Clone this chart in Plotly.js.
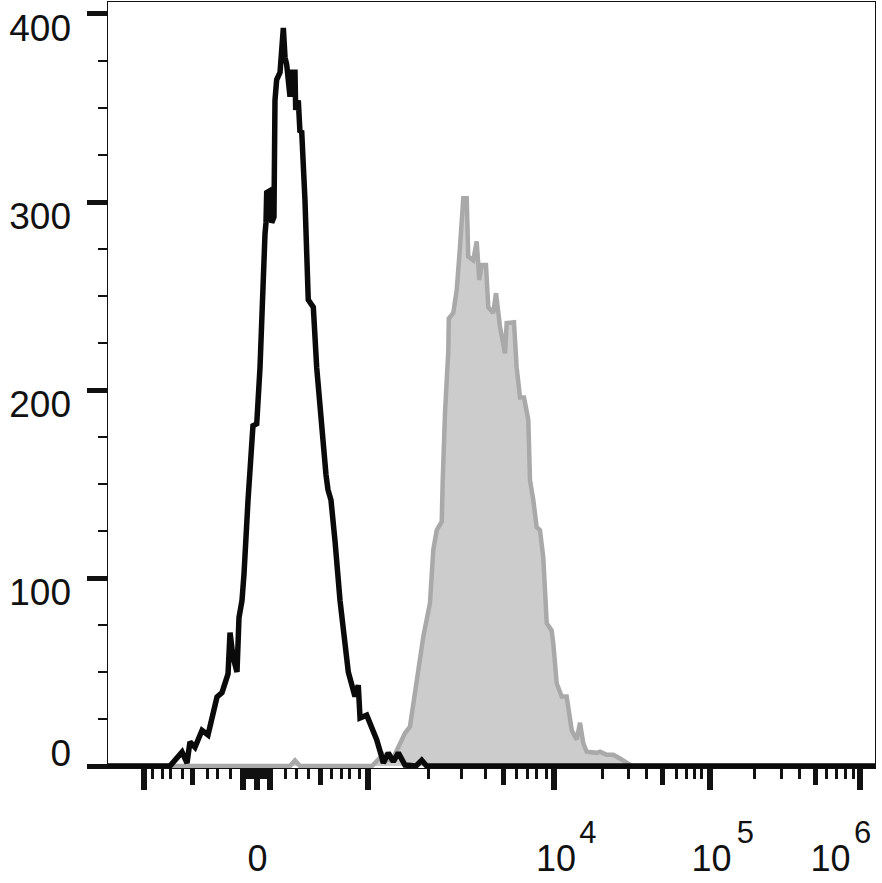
<!DOCTYPE html>
<html>
<head>
<meta charset="utf-8">
<script src="https://cdn.plot.ly/plotly-3.0.1.min.js"></script>
<style>html,body{margin:0;padding:0;background:#fff;}#chart{width:882px;height:883px;}</style>
</head>
<body>
<div id="chart"></div>
<script>
// Display channel units (0..1000 across the axis) of a biexponential fluorescence scale.
// Unstained / isotype histogram (black outline)
const blackX = [0, 80.8, 96.5, 103.0, 106.9, 113.4, 122.6, 130.4, 142.1, 148.6, 156.5, 159.1, 163.0, 168.2, 170.8, 174.7, 177.3, 180.6, 182.5, 185.1, 187.4, 189.0, 193.9, 198.2, 204.7, 206.0, 206.9, 211.2, 213.4, 216.4, 217.7, 219.9, 224.3, 228.6, 230.8, 233.0, 237.3, 239.5, 243.8, 244.7, 248.1, 250.3, 252.5, 253.8, 256.8, 261.1, 267.7, 272.1, 278.6, 280.6, 284.2, 286.8, 290.7, 295.9, 299.9, 302.5, 313.3, 322.0, 326.3, 328.6, 337.3, 350.3, 356.8, 358.9, 365.4, 371.9, 378.5, 387.2, 401.6, 409.0, 415.5, 1000];
const blackY = [0, 0, 7.4, 1.6, 12.8, 10, 19, 16.5, 36.7, 39, 49, 71, 58, 50, 79, 88, 102, 133, 141, 157, 168, 181, 182, 212, 283, 289, 305, 306, 289, 292, 354, 365, 369, 392.6, 377, 373, 356, 369, 369, 349, 354, 337, 338, 328, 301, 248, 244, 212, 177, 168, 155, 147, 141.5, 120, 99, 88, 50, 37, 43, 25.5, 27, 14, 5, 1.5, 7, 2.3, 7, 0.5, 0, 3, 0, 0];

// Stained histogram (grey filled)
const grayX = [0, 230.8, 237.3, 243.8, 250.3, 344.2, 352.0, 358.5, 363.8, 371.6, 376.8, 380.7, 387.2, 393.7, 402.5, 411.1, 419.8, 424.1, 428.6, 435.1, 436.4, 437.2, 439.4, 443.7, 444.3, 450.2, 454.6, 458.9, 461.5, 463.2, 467.7, 469.7, 476.2, 480.7, 484.1, 487.2, 492.8, 495.8, 502.3, 505.9, 511.1, 517.6, 519.8, 526.3, 529.3, 532.8, 537.2, 542.4, 548.0, 550.2, 554.5, 558.9, 563.2, 567.5, 572.0, 578.5, 580.6, 585.0, 591.5, 598.0, 604.6, 611.1, 615.4, 619.7, 624.1, 637.2, 641.5, 650.2, 658.8, 667.5, 676.3, 683.2, 1000];
const grayY = [0, 0, 0, 3, 0, 0, 3, 6, 3, 4, 8.5, 12, 17.5, 21, 44, 68.8, 86.7, 115, 125.5, 130, 152, 168, 188, 221, 238, 241, 253, 276, 290, 302, 302, 271, 269, 279, 258.5, 266.5, 266.5, 244, 241, 251.5, 233.7, 219.5, 235.6, 235.6, 236, 212, 196, 196, 184, 152, 141.5, 127, 125.5, 111, 76, 72, 65, 44, 37, 37, 19, 14, 23, 12, 7.6, 7, 7.6, 6, 6, 4, 1.6, 0, 0];

// Axis ticks (channel positions of the scale's tick marks)
const xMajorTicks = [46.3, 176.0, 194.3, 211.2, 339.0, 582.1, 784.9, 980.4];
const xMidTicks = [110.8, 277.1, 515.0, 722.3, 921.8];
const xMinorTicks = [57.4, 70.4, 82.1, 96.5, 129.1, 143.4, 159.1, 180.6, 183.8, 187.0, 190.2, 198.9, 202.1, 205.3, 208.0, 230.8, 246.4, 261.4, 292.0, 304.4, 315.5, 327.9, 417.9, 461.5, 492.2, 532.0, 547.0, 559.3, 571.1, 644.7, 678.4, 702.7, 741.5, 753.6, 764.4, 773.5, 843.5, 878.4, 902.2, 937.4, 949.2, 960.9, 971.7];
// Tick label text: base and exponent parts (positions in channel units)
const xBasePos = [194.9, 584.1, 786.8, 942.0];
const xBaseText = ['0', '10', '10', '10'];
const xExpPos = [625.5, 830.9, 984.0];
const xExpText = ['4', '5', '6'];
const yLabelVals = [100, 200, 300, 400];
const yLabelText = ['100', '200', '300', '400'];
const yZeroVal = [0];
const yZeroText = ['0'];

const FONT = '"Liberation Sans", Arial, Helvetica, sans-serif';
const INK = '#111111';
const YR = [-1.064, 406.38];
const XR = [0, 1000];

const traces = [
  {type: 'scatter', mode: 'lines', x: grayX, y: grayY, fill: 'tozeroy',
   fillcolor: '#cccccc', line: {color: '#a9a9a9', width: 4.5, shape: 'linear'}, hoverinfo: 'skip'},
  {type: 'scatter', mode: 'lines', x: blackX, y: blackY,
   line: {color: '#0a0a0a', width: 5.5, shape: 'linear'}, hoverinfo: 'skip'},
  {type: 'scatter', mode: 'lines', x: [], y: [], xaxis: 'x2', yaxis: 'y', hoverinfo: 'skip'},
  {type: 'scatter', mode: 'lines', x: [], y: [], xaxis: 'x3', yaxis: 'y', hoverinfo: 'skip'},
  {type: 'scatter', mode: 'lines', x: [], y: [], xaxis: 'x4', yaxis: 'y', hoverinfo: 'skip'},
  {type: 'scatter', mode: 'lines', x: [], y: [], xaxis: 'x', yaxis: 'y2', hoverinfo: 'skip'},
  {type: 'scatter', mode: 'lines', x: [], y: [], xaxis: 'x', yaxis: 'y3', hoverinfo: 'skip'}
];

const plain = {showgrid: false, zeroline: false, fixedrange: true};

const layout = {
  width: 882, height: 883,
  margin: {l: 108, r: 7, t: 2, b: 115, pad: 0},
  paper_bgcolor: '#ffffff', plot_bgcolor: '#ffffff',
  showlegend: false, hovermode: false,
  xaxis: Object.assign({}, plain, {
    range: XR, tickmode: 'array', tickvals: xMajorTicks,
    ticks: 'outside', ticklen: 21, tickwidth: 6, tickcolor: INK,
    showticklabels: false, showline: true, linecolor: INK, linewidth: 1, mirror: true,
    minor: {tickmode: 'array', tickvals: xMinorTicks, ticks: 'outside', ticklen: 10, tickwidth: 3, tickcolor: INK, showgrid: false}
  }),
  xaxis2: Object.assign({}, plain, {
    overlaying: 'x', anchor: 'y', side: 'bottom', range: XR,
    tickmode: 'array', tickvals: xMidTicks, ticks: 'outside', ticklen: 16, tickwidth: 5, tickcolor: INK,
    showticklabels: false, showline: false
  }),
  xaxis3: Object.assign({}, plain, {
    overlaying: 'x', anchor: 'y', side: 'bottom', range: XR,
    tickmode: 'array', tickvals: xBasePos, ticktext: xBaseText, ticks: '',
    showline: false, ticklabelstandoff: 66,
    tickfont: {family: FONT, size: 36, color: INK}
  }),
  xaxis4: Object.assign({}, plain, {
    overlaying: 'x', anchor: 'y', side: 'bottom', range: XR,
    tickmode: 'array', tickvals: xExpPos, ticktext: xExpText, ticks: '',
    showline: false, ticklabelstandoff: 43,
    tickfont: {family: FONT, size: 31, color: INK}
  }),
  yaxis: Object.assign({}, plain, {
    range: YR, tickmode: 'linear', tick0: 0, dtick: 100,
    ticks: 'outside', ticklen: 20, tickwidth: 5, tickcolor: INK,
    showticklabels: false, showline: true, linecolor: INK, linewidth: 1, mirror: true,
    minor: {tickmode: 'linear', tick0: 0, dtick: 25, ticks: 'outside', ticklen: 9, tickwidth: 2.5, tickcolor: INK, showgrid: false}
  }),
  yaxis2: Object.assign({}, plain, {
    overlaying: 'y', anchor: 'x', side: 'left', range: YR,
    tickmode: 'array', tickvals: yLabelVals, ticktext: yLabelText, ticks: '',
    showline: false, ticklabelstandoff: 36, ticklabelshift: 14,
    tickfont: {family: FONT, size: 37, color: INK}
  }),
  yaxis3: Object.assign({}, plain, {
    overlaying: 'y', anchor: 'x', side: 'left', range: YR,
    tickmode: 'array', tickvals: yZeroVal, ticktext: yZeroText, ticks: '',
    showline: false, ticklabelstandoff: 36, ticklabelshift: -13,
    tickfont: {family: FONT, size: 37, color: INK}
  })
};

Plotly.newPlot('chart', traces, layout, {staticPlot: true, displayModeBar: false});
</script>
</body>
</html>
